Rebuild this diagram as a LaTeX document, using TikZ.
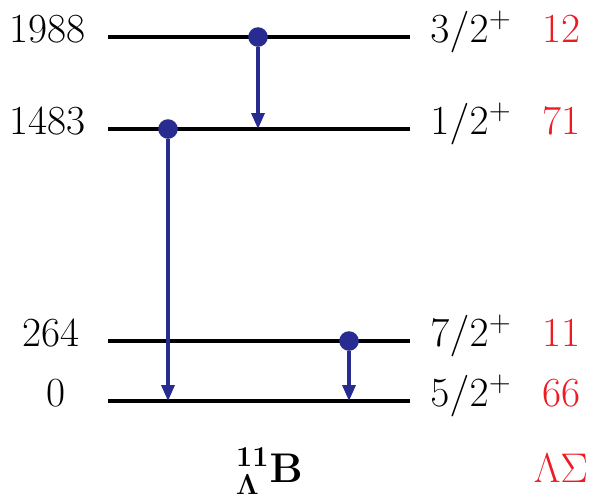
\documentclass[tikz,border=0pt]{standalone}
\usepackage{amsmath,amssymb}
\usetikzlibrary{arrows.meta,positioning,calc}
\definecolor{trblue}{RGB}{40,44,145}
\definecolor{sigred}{RGB}{237,28,36}
\tikzset{
  lvl/.style={black, line width=2pt},
  gdot/.style={circle, fill=trblue, inner sep=0pt, minimum size=9.8pt},
  garr/.style={-{Triangle[length=8pt, width=6.5pt]}, trblue, line width=1.7pt},
  elab/.style={font=\fontsize{20.7}{25}\selectfont, anchor=base, inner sep=0pt},
  jlab/.style={font=\fontsize{20.7}{25}\selectfont, anchor=base west, inner sep=0pt},
  rlab/.style={font=\fontsize{20.7}{25}\selectfont, anchor=base, inner sep=0pt, text=sigred},
}
\begin{document}
\begin{tikzpicture}[x=0.5pt, y=-0.5pt]
   \useasboundingbox (0,0) rectangle (594,494);
   % levels with energy, spin and mixing labels
   \foreach \nm/\yy/\ex/\en/\jp/\sg in {a/37/47.5/1988/3/12, b/129/47.5/1483/1/71,
                                        c/341/51/264/7/11, d/401/56/0/5/66}{
     \coordinate (l\nm) at (108,\yy);
     \coordinate (r\nm) at (410,\yy);
     \draw[lvl] (l\nm) -- (r\nm);
     \node[elab] (e\nm) at (\ex,\yy+5.5) {\en};
     \node[jlab] (j\nm) at (430,\yy+5.5) {$\jp/2^+$};
     \node[rlab] (s\nm) at (561,\yy+5.5) {\sg};
   }
   % gamma transitions
   \node[gdot] (ga) at (258,37) {};
   \node[gdot] (gb) at (168,129) {};
   \node[gdot] (gc) at (349,341) {};
   \draw[garr] (ga) -- (ga |- lb);
   \draw[garr] (gb) -- (gb |- ld);
   \draw[garr] (gc) -- (gc |- ld);
   % captions
   \node[elab] (nuc) at (269.5,482) {$\boldsymbol{{}^{11}_{\Lambda}}\mathbf{B}$};
   \node[rlab] (mix) at (561,482) {$\Lambda\Sigma$};
\end{tikzpicture}
\end{document}
